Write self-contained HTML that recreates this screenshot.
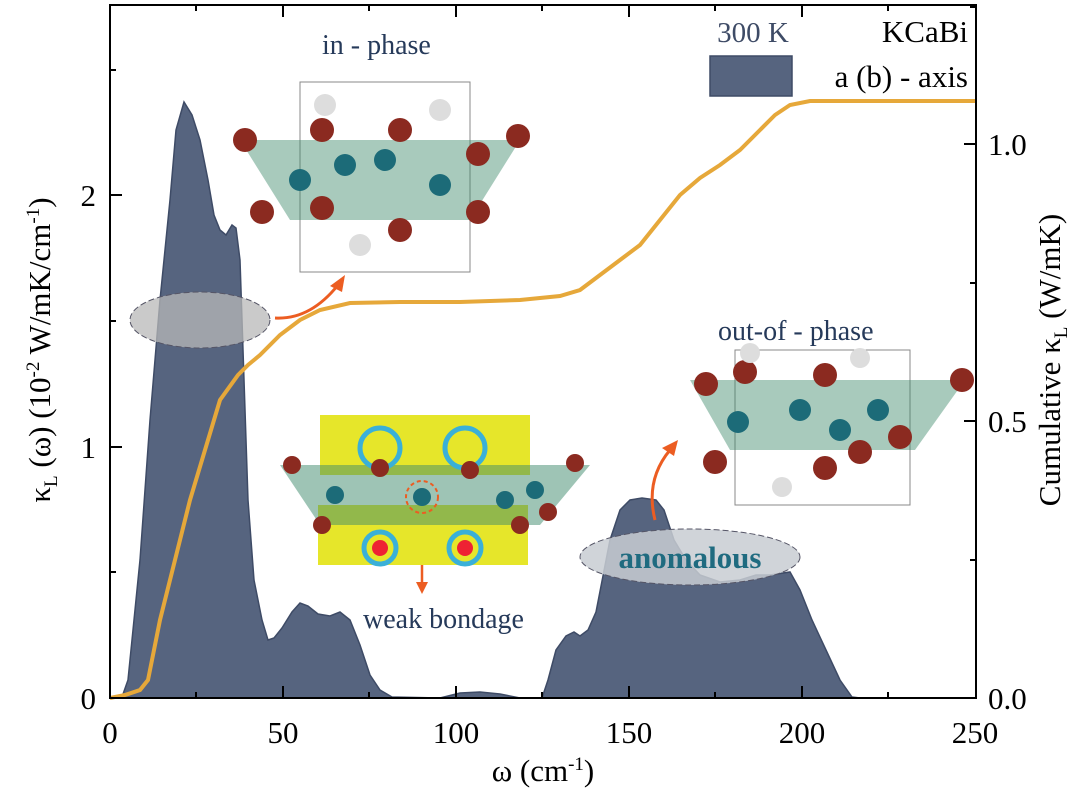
<!DOCTYPE html>
<html><head><meta charset="utf-8"><style>
body{margin:0;background:#fff}
svg{display:block}
svg text{font-family:"Liberation Serif","DejaVu Serif",serif}
</style></head><body>
<svg width="1082" height="792" viewBox="0 0 1082 792" font-family="Liberation Serif, serif">
<rect width="1082" height="792" fill="#fff"/>
<path d="M110,698 L122,697 L128,680 L140,560 L150,420 L160,300 L170,200 L176,130 L184,102 L192,115 L200,140 L208,180 L214,215 L220,230 L226,235 L232,225 L236,228 L240,260 L244,380 L248,500 L254,580 L262,620 L268,640 L274,638 L282,628 L292,612 L300,603 L308,606 L318,614 L330,616 L340,612 L350,620 L360,645 L370,675 L380,690 L392,697 L440,698 L460,693 L480,692 L500,694 L520,698 L542,698 L548,680 L556,650 L566,636 L574,632 L580,636 L588,630 L596,612 L610,540 L620,510 L630,500 L642,498 L656,500 L664,510 L674,540 L686,560 L700,575 L720,582 L740,580 L756,575 L770,575 L790,572 L800,590 L812,620 L826,650 L840,680 L852,697 L860,698 Z" fill="#56647f" stroke="#3e4b66" stroke-width="1.5"/>
<polyline points="110,698 125,695 140,690 148,680 160,620 175,560 190,500 205,450 220,400 238,375 248,365 260,355 280,335 300,320 320,310 350,303 400,302 460,302 520,300 560,296 580,290 600,275 620,260 640,245 660,220 680,195 700,178 720,165 740,150 760,130 775,115 790,105 810,101 976,101" fill="none" stroke="#e6a83a" stroke-width="4"/>
<rect x="110" y="5" width="866" height="693" fill="none" stroke="#000" stroke-width="2"/>
<g stroke="#000" stroke-width="2">
<line x1="283" y1="698" x2="283" y2="686"/><line x1="456" y1="698" x2="456" y2="686"/><line x1="629" y1="698" x2="629" y2="686"/><line x1="802" y1="698" x2="802" y2="686"/>
<line x1="196" y1="698" x2="196" y2="692"/><line x1="369" y1="698" x2="369" y2="692"/><line x1="542" y1="698" x2="542" y2="692"/><line x1="715" y1="698" x2="715" y2="692"/><line x1="888" y1="698" x2="888" y2="692"/>
<line x1="283" y1="5" x2="283" y2="17"/><line x1="456" y1="5" x2="456" y2="17"/><line x1="629" y1="5" x2="629" y2="17"/><line x1="802" y1="5" x2="802" y2="17"/>
<line x1="196" y1="5" x2="196" y2="11"/><line x1="369" y1="5" x2="369" y2="11"/><line x1="542" y1="5" x2="542" y2="11"/><line x1="715" y1="5" x2="715" y2="11"/><line x1="888" y1="5" x2="888" y2="11"/>
<line x1="110" y1="447" x2="122" y2="447"/><line x1="110" y1="195" x2="122" y2="195"/><line x1="110" y1="572" x2="116" y2="572"/><line x1="110" y1="321" x2="116" y2="321"/><line x1="110" y1="70" x2="116" y2="70"/>
<line x1="976" y1="421" x2="964" y2="421"/><line x1="976" y1="144" x2="964" y2="144"/><line x1="976" y1="560" x2="970" y2="560"/><line x1="976" y1="283" x2="970" y2="283"/><line x1="976" y1="7" x2="970" y2="7"/>
</g>
<g font-size="31" fill="#000">
<text x="110" y="743" text-anchor="middle">0</text><text x="283" y="743" text-anchor="middle">50</text><text x="456" y="743" text-anchor="middle">100</text><text x="629" y="743" text-anchor="middle">150</text><text x="802" y="743" text-anchor="middle">200</text><text x="975" y="743" text-anchor="middle">250</text>
<text x="96" y="709" text-anchor="end">0</text><text x="96" y="458" text-anchor="end">1</text><text x="96" y="206" text-anchor="end">2</text>
<text x="988" y="709">0.0</text><text x="988" y="432">0.5</text><text x="988" y="155">1.0</text>
<text x="543" y="781" text-anchor="middle">ω  (cm<tspan font-size="19" dy="-11">-1</tspan><tspan dy="11">)</tspan></text>
<text transform="translate(50,350) rotate(-90)" text-anchor="middle">κ<tspan font-size="19" dy="7">L</tspan><tspan dy="-7"> (ω)  (10</tspan><tspan font-size="19" dy="-11">-2</tspan><tspan dy="11">  W/mK/cm</tspan><tspan font-size="19" dy="-11">-1</tspan><tspan dy="11">)</tspan></text>
<text transform="translate(1060,360) rotate(-90)" text-anchor="middle">Cumulative κ<tspan font-size="19" dy="7">L</tspan><tspan dy="-7"> (W/mK)</tspan></text>
<text x="968" y="42" text-anchor="end">KCaBi</text>
<text x="968" y="87" text-anchor="end">a (b) - axis</text>
</g>
<text x="753" y="42" font-size="29" fill="#3e4b66" text-anchor="middle">300 K</text>
<rect x="710" y="56" width="82" height="40" fill="#56647f" stroke="#3e4b66" stroke-width="1.5"/>
<ellipse cx="200" cy="320" rx="70" ry="28" fill="#b8b8b8" fill-opacity="0.75" stroke="#556" stroke-dasharray="6,3"/>
<ellipse cx="690" cy="557" rx="110" ry="28" fill="#c8ccd2" fill-opacity="0.85" stroke="#556" stroke-dasharray="6,3"/>
<text x="690" y="568" font-size="31" font-weight="bold" fill="#1f6b80" text-anchor="middle">anomalous</text>
<path d="M275,318 Q310,320 338,285" fill="none" stroke="#ec5d22" stroke-width="3"/>
<polygon points="345,275 330,286 342,292" fill="#ec5d22"/>
<path d="M655,520 Q645,480 670,450" fill="none" stroke="#ec5d22" stroke-width="3"/>
<polygon points="678,440 662,448 674,456" fill="#ec5d22"/>
<line x1="422" y1="500" x2="422" y2="585" stroke="#ec5d22" stroke-width="2.5"/>
<polygon points="416,582 428,582 422,594" fill="#ec5d22"/>
<text x="322" y="54" font-size="28" fill="#263a5a">in - phase</text>
<text x="718" y="340" font-size="28" fill="#263a5a">out-of - phase</text>
<text x="363" y="628" font-size="28" fill="#263a5a">weak bondage</text>
<g>
<rect x="300" y="82" width="170" height="190" fill="none" stroke="#888"/>
<polygon points="240,140 520,140 470,220 290,220" fill="#3d8a6b" fill-opacity="0.45"/>
<g fill="#8b2a20"><circle cx="245" cy="140" r="12"/><circle cx="322" cy="130" r="12"/><circle cx="400" cy="130" r="12"/><circle cx="518" cy="136" r="12"/><circle cx="262" cy="212" r="12"/><circle cx="322" cy="208" r="12"/><circle cx="400" cy="230" r="12"/><circle cx="478" cy="154" r="12"/><circle cx="478" cy="212" r="12"/></g>
<g fill="#1c6b78"><circle cx="300" cy="180" r="11"/><circle cx="345" cy="165" r="11"/><circle cx="385" cy="160" r="11"/><circle cx="440" cy="185" r="11"/></g>
<g fill="#ddd"><circle cx="325" cy="105" r="11"/><circle cx="440" cy="110" r="11"/><circle cx="360" cy="245" r="11"/></g>
</g>
<g>
<rect x="735" y="350" width="175" height="155" fill="none" stroke="#888"/>
<polygon points="690,380 965,380 915,450 730,450" fill="#3d8a6b" fill-opacity="0.45"/>
<g fill="#8b2a20"><circle cx="706" cy="384" r="12"/><circle cx="745" cy="372" r="12"/><circle cx="825" cy="375" r="12"/><circle cx="962" cy="380" r="12"/><circle cx="715" cy="462" r="12"/><circle cx="825" cy="468" r="12"/><circle cx="860" cy="452" r="12"/><circle cx="900" cy="437" r="12"/></g>
<g fill="#1c6b78"><circle cx="738" cy="422" r="11"/><circle cx="800" cy="410" r="11"/><circle cx="840" cy="430" r="11"/><circle cx="878" cy="410" r="11"/></g>
<g fill="#ddd"><circle cx="750" cy="353" r="10"/><circle cx="860" cy="358" r="10"/><circle cx="782" cy="487" r="10"/></g>
</g>
<g>
<rect x="320" y="415" width="210" height="60" fill="#e6e62a"/>
<rect x="318" y="505" width="210" height="60" fill="#e6e62a"/>
<polygon points="280,465 590,465 540,525 320,525" fill="#3d8a6b" fill-opacity="0.5"/>
<g fill="none" stroke="#3ab0d8" stroke-width="5"><circle cx="380" cy="448" r="20"/><circle cx="465" cy="448" r="20"/><circle cx="380" cy="548" r="16"/><circle cx="465" cy="548" r="16"/></g>
<g fill="#e23"><circle cx="380" cy="548" r="8"/><circle cx="465" cy="548" r="8"/></g>
<g fill="#8b2a20"><circle cx="292" cy="465" r="9"/><circle cx="380" cy="468" r="9"/><circle cx="470" cy="470" r="9"/><circle cx="575" cy="463" r="9"/><circle cx="322" cy="525" r="9"/><circle cx="520" cy="525" r="9"/><circle cx="548" cy="512" r="9"/></g>
<g fill="#1c6b78"><circle cx="335" cy="495" r="9"/><circle cx="422" cy="497" r="9"/><circle cx="505" cy="500" r="9"/><circle cx="535" cy="490" r="9"/></g>
<circle cx="422" cy="497" r="16" fill="none" stroke="#ec5d22" stroke-width="2" stroke-dasharray="4,3"/>
</g>
</svg>
</body></html>
